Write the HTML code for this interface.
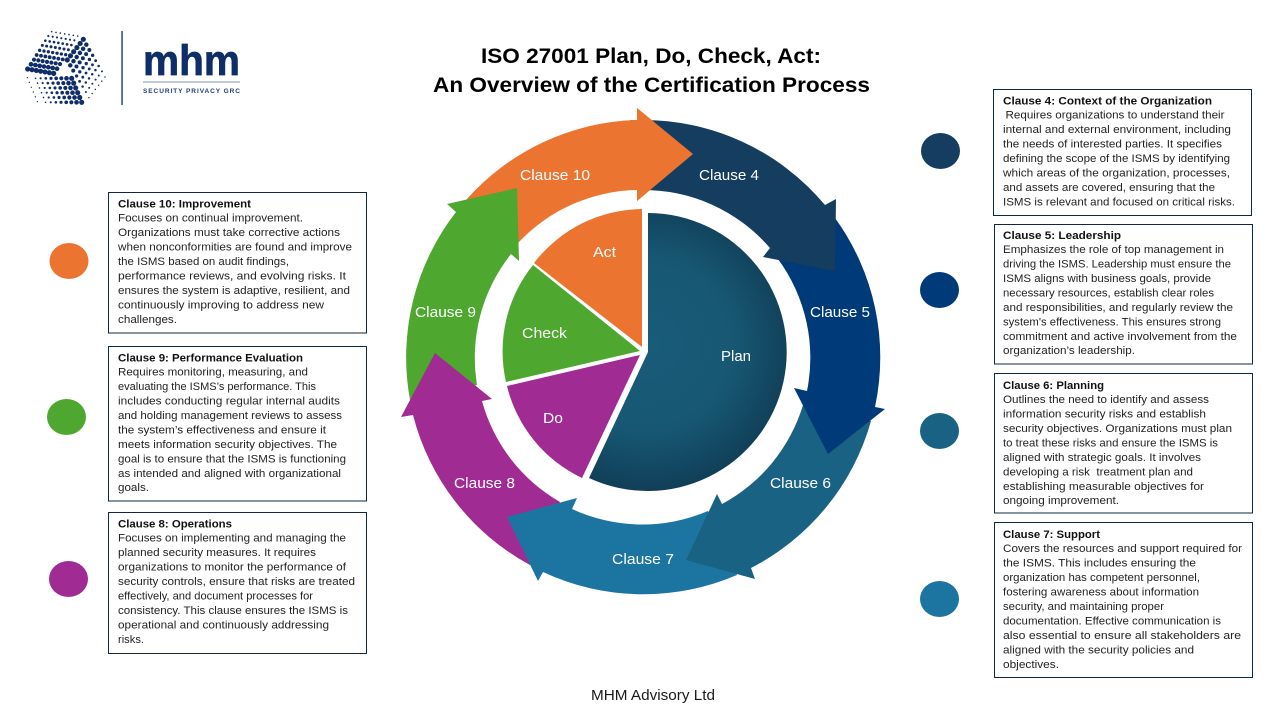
<!DOCTYPE html>
<html lang="en">
<head>
<meta charset="utf-8">
<title>ISO 27001 Plan, Do, Check, Act</title>
<style>
html,body{margin:0;padding:0;background:#fff;width:1280px;height:720px;overflow:hidden}
svg{display:block}
text{font-family:"Liberation Sans",sans-serif}
.p text{font-size:11px;fill:#222}
.p text.h{font-weight:bold;fill:#111}
.l text{font-size:14.5px;fill:#fff}
rect.b{fill:#fff;stroke:#0e2841;stroke-width:1}
.d line{stroke:#0f2d69;stroke-linecap:round}
</style>
</head>
<body>
<svg xmlns="http://www.w3.org/2000/svg" width="1280" height="720" viewBox="0 0 1280 720">
<defs>
<radialGradient id="pg" gradientUnits="userSpaceOnUse" cx="648" cy="345" r="145">
<stop offset="0" stop-color="#185c79"/><stop offset=".6" stop-color="#175773"/><stop offset="1" stop-color="#113f58"/>
</radialGradient>
</defs>
<rect width="1280" height="720" fill="#fff"/>

<!-- logo -->
<g class="d" transform="translate(20,25) scale(.3333)" fill="none">
<line x1="23" y1="132" x2="103" y2="145.500" stroke-width="15.500" stroke-dasharray="0 13.2"/>
<line x1="33" y1="118" x2="113" y2="131.500" stroke-width="14" stroke-dasharray="0 13.2"/>
<line x1="42" y1="104" x2="122" y2="117.500" stroke-width="12.500" stroke-dasharray="0 13.2"/>
<line x1="50" y1="90" x2="130" y2="103.500" stroke-width="11.500" stroke-dasharray="0 13.2"/>
<line x1="59" y1="76" x2="139" y2="89.500" stroke-width="10" stroke-dasharray="0 13.2"/>
<line x1="67" y1="61" x2="147" y2="74.500" stroke-width="9" stroke-dasharray="0 13.2"/>
<line x1="76" y1="47" x2="156" y2="60.500" stroke-width="8" stroke-dasharray="0 13.2"/>
<line x1="85" y1="33" x2="165" y2="46.500" stroke-width="6.500" stroke-dasharray="0 13.2"/>
<line x1="95" y1="20" x2="175" y2="33.500" stroke-width="5" stroke-dasharray="0 13.2"/>
<line x1="190" y1="43" x2="141" y2="106" stroke-width="15.500" stroke-dasharray="0 15.7"/>
<line x1="199" y1="59" x2="150" y2="122" stroke-width="13.500" stroke-dasharray="0 15.7"/>
<line x1="208" y1="75" x2="159" y2="138" stroke-width="12" stroke-dasharray="0 15.7"/>
<line x1="218" y1="91" x2="169" y2="154" stroke-width="10" stroke-dasharray="0 15.7"/>
<line x1="227" y1="107" x2="178" y2="170" stroke-width="8.500" stroke-dasharray="0 15.7"/>
<line x1="236" y1="123" x2="187" y2="186" stroke-width="7.500" stroke-dasharray="0 15.7"/>
<line x1="246" y1="139" x2="197" y2="202" stroke-width="6" stroke-dasharray="0 15.7"/>
<line x1="255" y1="156" x2="206" y2="219" stroke-width="4.500" stroke-dasharray="0 15.7"/>
<line x1="155" y1="160" x2="186" y2="234" stroke-width="15.500" stroke-dasharray="0 15.6"/>
<line x1="139.500" y1="160" x2="170.500" y2="234" stroke-width="14" stroke-dasharray="0 15.6"/>
<line x1="124" y1="160" x2="155" y2="234" stroke-width="12.500" stroke-dasharray="0 15.6"/>
<line x1="108.500" y1="160" x2="139.500" y2="234" stroke-width="11" stroke-dasharray="0 15.6"/>
<line x1="93" y1="160" x2="124" y2="234" stroke-width="9.500" stroke-dasharray="0 15.6"/>
<line x1="77.500" y1="160" x2="108.500" y2="234" stroke-width="8" stroke-dasharray="0 15.6"/>
<line x1="62" y1="160" x2="93" y2="234" stroke-width="6.500" stroke-dasharray="0 15.6"/>
<line x1="46.500" y1="160" x2="77.500" y2="234" stroke-width="5" stroke-dasharray="0 15.6"/>
<line x1="22" y1="158" x2="53" y2="232" stroke-width="4" stroke-dasharray="0 15.6"/>
</g>
<rect x="121.300" y="31" width="1.500" height="74" fill="#26477f"/>
<text x="143" y="75" font-size="43" font-weight="bold" fill="#0f2d69" stroke="#0f2d69" stroke-width=".7" textLength="97" lengthAdjust="spacingAndGlyphs">mhm</text>
<rect x="143" y="81.500" width="97" height="1" fill="#7f95b8"/>
<text x="143" y="93" font-size="6.500" font-weight="bold" fill="#1f3f78" textLength="97">SECURITY PRIVACY GRC</text>

<!-- title -->
<text x="481" y="63" font-size="21.500" font-weight="bold" fill="#000" textLength="340" lengthAdjust="spacingAndGlyphs">ISO 27001 Plan, Do, Check, Act:</text>
<text x="433" y="92" font-size="21.500" font-weight="bold" fill="#000" textLength="437" lengthAdjust="spacingAndGlyphs">An Overview of the Certification Process</text>

<!-- outer ring -->
<path fill="#eb7431" d="M466 200A237 237 0 0 1 637 120L637 108L693 154L637 201L637 190A167 167 0 0 0 518 243Z"/>
<path fill="#4ea72e" d="M410 400A237 237 0 0 1 456 212L447 204L517 188L519 261L511 254A167 167 0 0 0 477 385Z"/>
<path fill="#a02b93" d="M413 415A237 237 0 0 0 530 565L560 502A167 167 0 0 1 482 401L492 399L435 353L401 417Z"/>
<path fill="#1b75a0" d="M737 575A237 237 0 0 1 543 572L538 581L507 517L577 498L572 509A167 167 0 0 0 708 511Z"/>
<path fill="#1a6283" d="M871 421A237 237 0 0 1 751 568L755 579L686 560L717 494L722 504A167 167 0 0 0 803 405Z"/>
<path fill="#003a78" d="M835 218A237 237 0 0 1 875 407L885 409L828 454L794 388L807 391A167 167 0 0 0 778 259Z"/>
<path fill="#153d5f" d="M640 120A237 237 0 0 1 825 205L836 199L835 271L763 257L770 248A167 167 0 0 0 640 190Z"/>
<polygon fill="#eb7431" points="630,120 637,120 637,108 693,154 637,201 637,190 630,190"/>

<!-- inner pie -->
<path fill="#eb7431" d="M642 347L642 209A138 138 0 0 0 534 263Z"/>
<path fill="#4ea72e" d="M640 351L533 265A138 138 0 0 0 506 382Z"/>
<path fill="#a02b93" d="M640 355L507 386A138 138 0 0 0 582 478Z"/>
<path fill="url(#pg)" d="M648 213A139 139 0 1 1 589 478L648 352Z"/>

<g class="l">
<text x="520" y="180" textLength="70" lengthAdjust="spacingAndGlyphs">Clause 10</text>
<text x="699" y="180" textLength="60" lengthAdjust="spacingAndGlyphs">Clause 4</text>
<text x="810" y="317" textLength="60" lengthAdjust="spacingAndGlyphs">Clause 5</text>
<text x="770" y="488" textLength="61" lengthAdjust="spacingAndGlyphs">Clause 6</text>
<text x="612" y="564" textLength="62" lengthAdjust="spacingAndGlyphs">Clause 7</text>
<text x="454" y="488" textLength="61" lengthAdjust="spacingAndGlyphs">Clause 8</text>
<text x="415" y="317" textLength="61" lengthAdjust="spacingAndGlyphs">Clause 9</text>
<text x="593" y="257" textLength="23" lengthAdjust="spacingAndGlyphs">Act</text>
<text x="721" y="361" textLength="30" lengthAdjust="spacingAndGlyphs">Plan</text>
<text x="522" y="338" textLength="45" lengthAdjust="spacingAndGlyphs">Check</text>
<text x="543" y="423" textLength="20" lengthAdjust="spacingAndGlyphs">Do</text>
</g>

<!-- markers -->
<ellipse cx="69" cy="261" rx="19.500" ry="18" fill="#eb7431"/>
<ellipse cx="66.500" cy="417" rx="19.500" ry="18" fill="#4ea72e"/>
<ellipse cx="68.500" cy="579" rx="19.500" ry="18" fill="#a02b93"/>
<ellipse cx="940.500" cy="151" rx="19.500" ry="18" fill="#153d5f"/>
<ellipse cx="939.500" cy="290" rx="19.500" ry="18" fill="#003a78"/>
<ellipse cx="939.500" cy="431" rx="19.500" ry="18" fill="#1a6283"/>
<ellipse cx="939.500" cy="599" rx="19.500" ry="18" fill="#1b75a0"/>

<!-- panels -->
<g class="p">
<rect class="b" x="108.500" y="192.500" width="258" height="140.500"/>
<text class="h" x="118" y="207.500" textLength="133" lengthAdjust="spacingAndGlyphs">Clause 10: Improvement</text>
<text x="118" y="221.500" textLength="185" lengthAdjust="spacingAndGlyphs">Focuses on continual improvement.</text>
<text x="118" y="236" textLength="222" lengthAdjust="spacingAndGlyphs">Organizations must take corrective actions</text>
<text x="118" y="250.500" textLength="234" lengthAdjust="spacingAndGlyphs">when nonconformities are found and improve</text>
<text x="118" y="265" textLength="171" lengthAdjust="spacingAndGlyphs">the ISMS based on audit findings,</text>
<text x="118" y="279.500" textLength="228" lengthAdjust="spacingAndGlyphs">performance reviews, and evolving risks. It</text>
<text x="118" y="294" textLength="232" lengthAdjust="spacingAndGlyphs">ensures the system is adaptive, resilient, and</text>
<text x="118" y="308.500" textLength="206" lengthAdjust="spacingAndGlyphs">continuously improving to address new</text>
<text x="118" y="323" textLength="59" lengthAdjust="spacingAndGlyphs">challenges.</text>

<rect class="b" x="108.500" y="346.500" width="258" height="154.500"/>
<text class="h" x="118" y="361.500" textLength="185" lengthAdjust="spacingAndGlyphs">Clause 9: Performance Evaluation</text>
<text x="118" y="375.500" textLength="190" lengthAdjust="spacingAndGlyphs">Requires monitoring, measuring, and</text>
<text x="118" y="390" textLength="198" lengthAdjust="spacingAndGlyphs">evaluating the ISMS’s performance. This</text>
<text x="118" y="404.500" textLength="222" lengthAdjust="spacingAndGlyphs">includes conducting regular internal audits</text>
<text x="118" y="419" textLength="224" lengthAdjust="spacingAndGlyphs">and holding management reviews to assess</text>
<text x="118" y="433.500" textLength="208" lengthAdjust="spacingAndGlyphs">the system’s effectiveness and ensure it</text>
<text x="118" y="448" textLength="219" lengthAdjust="spacingAndGlyphs">meets information security objectives. The</text>
<text x="118" y="462.500" textLength="228" lengthAdjust="spacingAndGlyphs">goal is to ensure that the ISMS is functioning</text>
<text x="118" y="477" textLength="223" lengthAdjust="spacingAndGlyphs">as intended and aligned with organizational</text>
<text x="118" y="491" textLength="31" lengthAdjust="spacingAndGlyphs">goals.</text>

<rect class="b" x="108.500" y="512.500" width="258" height="141"/>
<text class="h" x="118" y="527.500" textLength="114" lengthAdjust="spacingAndGlyphs">Clause 8: Operations</text>
<text x="118" y="541.500" textLength="228" lengthAdjust="spacingAndGlyphs">Focuses on implementing and managing the</text>
<text x="118" y="556" textLength="198" lengthAdjust="spacingAndGlyphs">planned security measures. It requires</text>
<text x="118" y="570.500" textLength="228" lengthAdjust="spacingAndGlyphs">organizations to monitor the performance of</text>
<text x="118" y="585" textLength="237" lengthAdjust="spacingAndGlyphs">security controls, ensure that risks are treated</text>
<text x="118" y="599.500" textLength="195" lengthAdjust="spacingAndGlyphs">effectively, and document processes for</text>
<text x="118" y="614" textLength="230" lengthAdjust="spacingAndGlyphs">consistency. This clause ensures the ISMS is</text>
<text x="118" y="628.500" textLength="211" lengthAdjust="spacingAndGlyphs">operational and continuously addressing</text>
<text x="118" y="643" textLength="26" lengthAdjust="spacingAndGlyphs">risks.</text>

<rect class="b" x="993.500" y="89.500" width="258" height="126"/>
<text class="h" x="1003" y="104.500" textLength="209" lengthAdjust="spacingAndGlyphs">Clause 4: Context of the Organization</text>
<text x="1005.500" y="118.500" textLength="219" lengthAdjust="spacingAndGlyphs">Requires organizations to understand their</text>
<text x="1003" y="133" textLength="228" lengthAdjust="spacingAndGlyphs">internal and external environment, including</text>
<text x="1003" y="147.500" textLength="219" lengthAdjust="spacingAndGlyphs">the needs of interested parties. It specifies</text>
<text x="1003" y="162" textLength="227" lengthAdjust="spacingAndGlyphs">defining the scope of the ISMS by identifying</text>
<text x="1003" y="176.500" textLength="227" lengthAdjust="spacingAndGlyphs">which areas of the organization, processes,</text>
<text x="1003" y="191" textLength="212" lengthAdjust="spacingAndGlyphs">and assets are covered, ensuring that the</text>
<text x="1003" y="205.500" textLength="232" lengthAdjust="spacingAndGlyphs">ISMS is relevant and focused on critical risks.</text>

<rect class="b" x="994.500" y="224.500" width="258" height="139.500"/>
<text class="h" x="1003" y="239" textLength="118" lengthAdjust="spacingAndGlyphs">Clause 5: Leadership</text>
<text x="1003" y="253" textLength="221" lengthAdjust="spacingAndGlyphs">Emphasizes the role of top management in</text>
<text x="1003" y="267.500" textLength="228" lengthAdjust="spacingAndGlyphs">driving the ISMS. Leadership must ensure the</text>
<text x="1003" y="282" textLength="208" lengthAdjust="spacingAndGlyphs">ISMS aligns with business goals, provide</text>
<text x="1003" y="296.500" textLength="211" lengthAdjust="spacingAndGlyphs">necessary resources, establish clear roles</text>
<text x="1003" y="311" textLength="230" lengthAdjust="spacingAndGlyphs">and responsibilities, and regularly review the</text>
<text x="1003" y="325.500" textLength="218" lengthAdjust="spacingAndGlyphs">system's effectiveness. This ensures strong</text>
<text x="1003" y="340" textLength="234" lengthAdjust="spacingAndGlyphs">commitment and active involvement from the</text>
<text x="1003" y="354" textLength="132" lengthAdjust="spacingAndGlyphs">organization’s leadership.</text>

<rect class="b" x="994.500" y="373.500" width="258" height="139.500"/>
<text class="h" x="1003" y="389" textLength="101" lengthAdjust="spacingAndGlyphs">Clause 6: Planning</text>
<text x="1003" y="403" textLength="206" lengthAdjust="spacingAndGlyphs">Outlines the need to identify and assess</text>
<text x="1003" y="417.500" textLength="203" lengthAdjust="spacingAndGlyphs">information security risks and establish</text>
<text x="1003" y="432" textLength="229" lengthAdjust="spacingAndGlyphs">security objectives. Organizations must plan</text>
<text x="1003" y="446.500" textLength="215" lengthAdjust="spacingAndGlyphs">to treat these risks and ensure the ISMS is</text>
<text x="1003" y="461" textLength="198" lengthAdjust="spacingAndGlyphs">aligned with strategic goals. It involves</text>
<text x="1003" y="475.500" textLength="190" lengthAdjust="spacingAndGlyphs" xml:space="preserve">developing a risk  treatment plan and</text>
<text x="1003" y="490" textLength="201" lengthAdjust="spacingAndGlyphs">establishing measurable objectives for</text>
<text x="1003" y="504" textLength="116" lengthAdjust="spacingAndGlyphs">ongoing improvement.</text>

<rect class="b" x="994.500" y="522.500" width="258" height="155"/>
<text class="h" x="1003" y="538" textLength="97" lengthAdjust="spacingAndGlyphs">Clause 7: Support</text>
<text x="1003" y="552" textLength="239" lengthAdjust="spacingAndGlyphs">Covers the resources and support required for</text>
<text x="1003" y="566.500" textLength="193" lengthAdjust="spacingAndGlyphs">the ISMS. This includes ensuring the</text>
<text x="1003" y="581" textLength="197" lengthAdjust="spacingAndGlyphs">organization has competent personnel,</text>
<text x="1003" y="595.500" textLength="196" lengthAdjust="spacingAndGlyphs">fostering awareness about information</text>
<text x="1003" y="610" textLength="161" lengthAdjust="spacingAndGlyphs">security, and maintaining proper</text>
<text x="1003" y="624.500" textLength="218" lengthAdjust="spacingAndGlyphs">documentation. Effective communication is</text>
<text x="1003" y="639" textLength="238" lengthAdjust="spacingAndGlyphs">also essential to ensure all stakeholders are</text>
<text x="1003" y="653.500" textLength="191" lengthAdjust="spacingAndGlyphs">aligned with the security policies and</text>
<text x="1003" y="668" textLength="56" lengthAdjust="spacingAndGlyphs">objectives.</text>
</g>

<text x="591" y="700" font-size="14.500" fill="#1a1a1a" textLength="124" lengthAdjust="spacingAndGlyphs">MHM Advisory Ltd</text>
</svg>
</body>
</html>
